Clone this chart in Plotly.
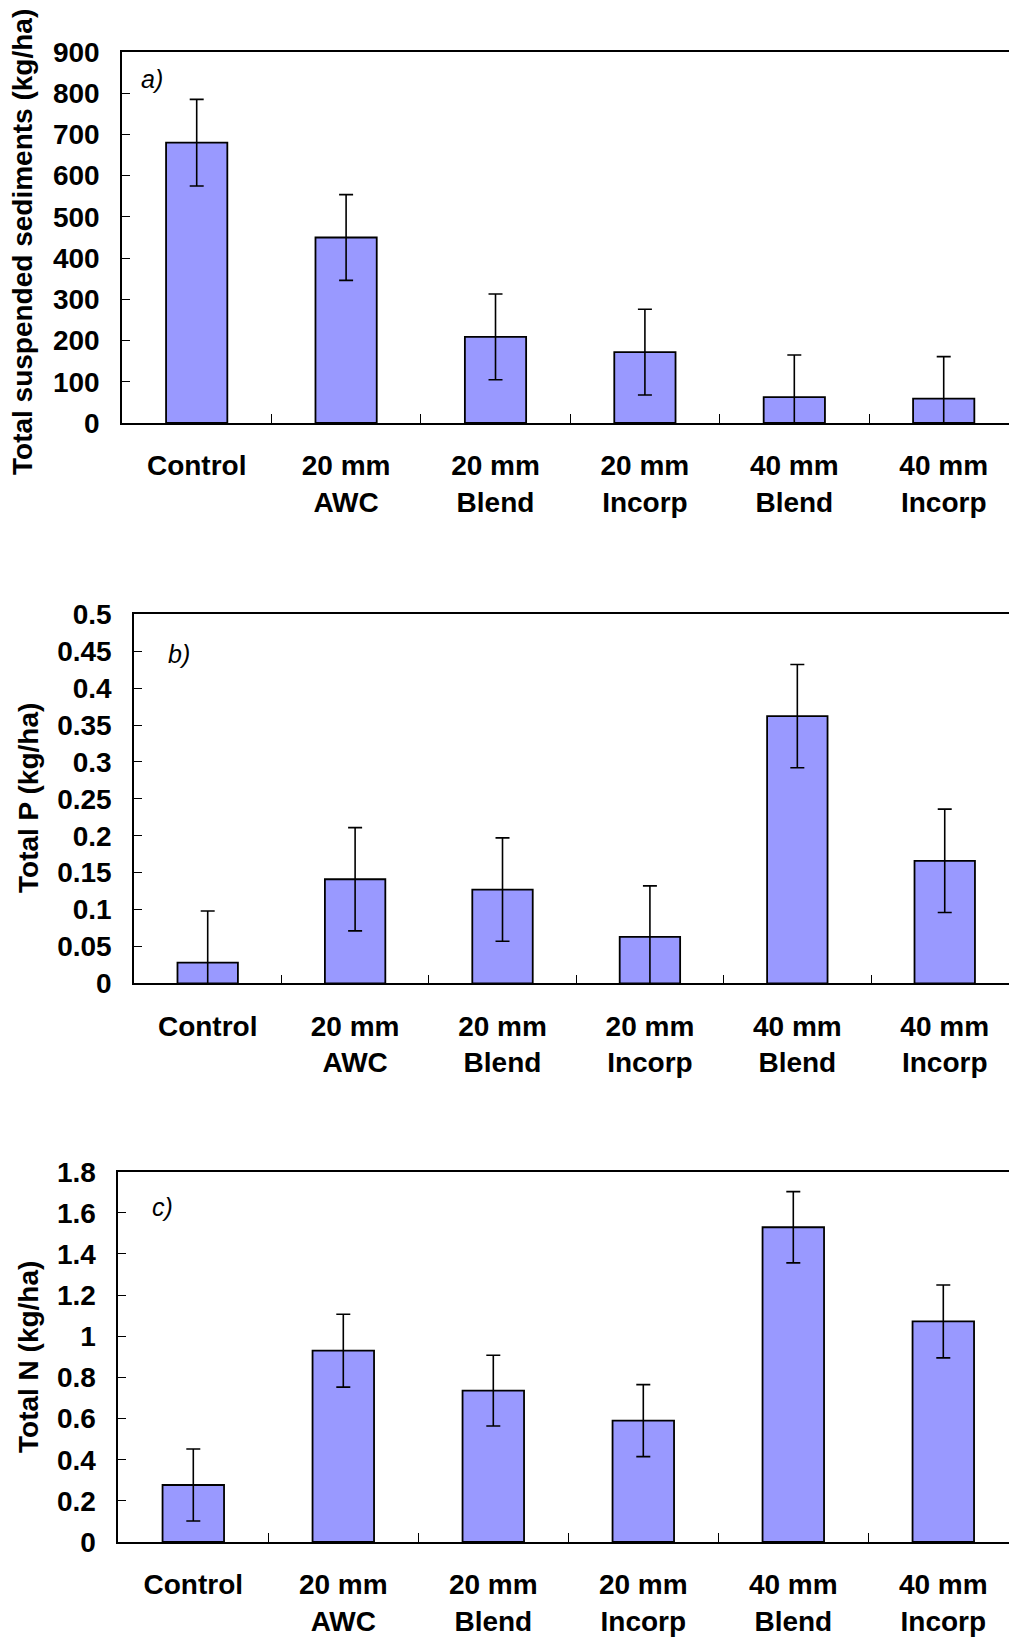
import plotly.graph_objects as go

# ---- data ----
categories = ["Control", "20 mm<br>AWC", "20 mm<br>Blend", "20 mm<br>Incorp", "40 mm<br>Blend", "40 mm<br>Incorp"]

tss_values = [680, 450, 209, 172, 63, 59]
tss_errors = [105, 104, 104, 104, 102, 102]

tp_values = [0.028, 0.141, 0.127, 0.063, 0.362, 0.166]
tp_errors = [0.070, 0.070, 0.070, 0.069, 0.070, 0.070]

tn_values = [0.277, 0.930, 0.736, 0.590, 1.530, 1.072]
tn_errors = [0.175, 0.177, 0.172, 0.175, 0.173, 0.177]

tss_ticks = [0, 100, 200, 300, 400, 500, 600, 700, 800, 900]
tss_ticktext = ["0", "100", "200", "300", "400", "500", "600", "700", "800", "900"]
tp_ticks = [0, 0.05, 0.1, 0.15, 0.2, 0.25, 0.3, 0.35, 0.4, 0.45, 0.5]
tp_ticktext = ["0", "0.05", "0.1", "0.15", "0.2", "0.25", "0.3", "0.35", "0.4", "0.45", "0.5"]
tn_ticks = [0, 0.2, 0.4, 0.6, 0.8, 1.0, 1.2, 1.4, 1.6, 1.8]
tn_ticktext = ["0", "0.2", "0.4", "0.6", "0.8", "1", "1.2", "1.4", "1.6", "1.8"]

titles = ["Total suspended sediments (kg/ha)", "Total P (kg/ha)", "Total N (kg/ha)"]
panel_labels = ["a)", "b)", "c)"]

W, H = 1009, 1638
FONT = "Liberation Sans, Arial, sans-serif"
BAR_COLOR = "#9999FF"
FS = 28

fig = go.Figure()

panels = [
    dict(vals=tss_values, errs=tss_errors, ticks=tss_ticks, ticktext=tss_ticktext, rng=[0, 900],
         left=122, top=52, bottom=423, xmax=5.437, title_x=22, title_y=242, lab_x=152, lab_y=79),
    dict(vals=tp_values, errs=tp_errors, ticks=tp_ticks, ticktext=tp_ticktext, rng=[0, 0.5],
         left=134, top=614.3, bottom=983.3, xmax=5.436, title_x=28, title_y=798, lab_x=179, lab_y=654),
    dict(vals=tn_values, errs=tn_errors, ticks=tn_ticks, ticktext=tn_ticktext, rng=[0, 1.8],
         left=118.3, top=1171.7, bottom=1542, xmax=5.438, title_x=28, title_y=1357, lab_x=162, lab_y=1207),
]

layout = dict(
    width=W, height=H,
    margin=dict(l=0, r=0, t=0, b=0, autoexpand=False),
    paper_bgcolor="white", plot_bgcolor="white",
    showlegend=False,
)
annotations = []

for i, p in enumerate(panels):
    n = "" if i == 0 else str(i + 1)
    xa = "x" + n
    ya = "y" + n
    fig.add_trace(go.Bar(
        x=categories, y=p["vals"],
        xaxis=xa, yaxis=ya,
        width=0.41,
        marker=dict(color=BAR_COLOR, line=dict(color="black", width=1.8)),
        error_y=dict(type="data", array=p["errs"], visible=True,
                     color="black", thickness=1.6, width=7),
    ))
    layout["xaxis" + n] = dict(
        domain=[p["left"] / W, 1],
        anchor=ya,
        range=[-0.5, p["xmax"]],
        type="category",
        automargin=False,
        showline=True, linecolor="black", linewidth=1.5, mirror=True,
        ticks="inside", ticklen=9, tickwidth=1, tickcolor="black",
        tickson="boundaries",
        showgrid=False, zeroline=False,
        tickfont=dict(family=FONT, size=FS, color="black", weight="bold"),
        ticklabelstandoff=17,
        fixedrange=True,
    )
    layout["yaxis" + n] = dict(
        domain=[1 - p["bottom"] / H, 1 - p["top"] / H],
        anchor=xa,
        range=p["rng"],
        automargin=False,
        tickmode="array", tickvals=p["ticks"], ticktext=p["ticktext"],
        showline=True, linecolor="black", linewidth=1.5, mirror=False,
        ticks="inside", ticklen=8, tickwidth=1, tickcolor="black",
        showgrid=False, zeroline=False,
        tickfont=dict(family=FONT, size=FS, color="black", weight="bold"),
        ticklabelstandoff=15,
        fixedrange=True,
    )
    annotations.append(dict(
        text=titles[i], xref="paper", yref="paper",
        x=p["title_x"] / W, y=1 - p["title_y"] / H,
        xanchor="center", yanchor="middle", textangle=-90, showarrow=False,
        font=dict(family=FONT, size=FS, color="black", weight="bold"),
    ))
    annotations.append(dict(
        text="<i>" + panel_labels[i] + "</i>", xref="paper", yref="paper",
        x=p["lab_x"] / W, y=1 - p["lab_y"] / H,
        xanchor="center", yanchor="middle", showarrow=False,
        font=dict(family=FONT, size=25, color="black"),
    ))

layout["annotations"] = annotations
fig.update_layout(**layout)
fig.write_html(
    "out.html",
    config={"displayModeBar": False},
    post_script="document.body.style.margin='0px';document.body.style.overflow='hidden';",
)
